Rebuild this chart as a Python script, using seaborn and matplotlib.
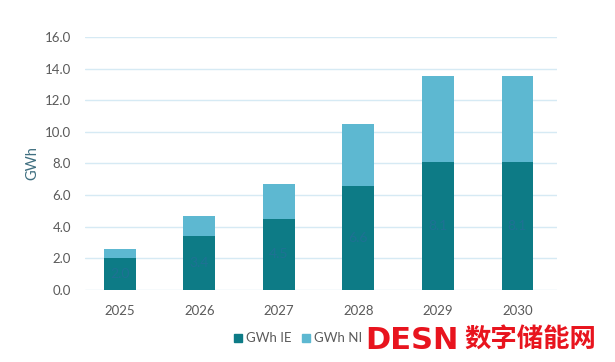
import matplotlib.pyplot as plt
import seaborn as sns
import pandas as pd

anni = ['2025', '2026', '2027', '2028', '2029', '2030']
gwh_ie = [2.0, 3.4, 4.5, 6.6, 8.1, 8.1]
gwh_ni = [0.6, 1.3, 2.2, 3.9, 5.4, 5.4]

col_ie = '#0d7b86'
col_ni = '#5db8d1'
grigio = '#5a5a5a'

sns.set_style('white')
plt.rcParams['font.family'] = ['Lato', 'DejaVu Sans']

df = pd.DataFrame({'anno': anni, 'ie': gwh_ie, 'ni': gwh_ni})
df['tot'] = df['ie'] + df['ni']

fig = plt.figure(figsize=(6.15, 3.62), dpi=100)
ax = fig.add_axes([0.138, 0.199, 0.768, 0.699])

sns.barplot(data=df, x='anno', y='tot', color=col_ni, width=0.4, saturation=1,
            linewidth=0, ax=ax, zorder=3)
sns.barplot(data=df, x='anno', y='ie', color=col_ie, width=0.4, saturation=1,
            linewidth=0, ax=ax, zorder=3)

# etichette quasi invisibili dentro le barre scure
ax.bar_label(ax.containers[1], labels=[f'{v:.1f}' for v in gwh_ie], label_type='center',
             color='#2a6a9e', fontsize=10, alpha=0.6, zorder=5)

ax.set_ylim(0, 16)
ax.set_xlim(-0.44, 5.5)
ax.set_yticks(range(0, 17, 2))
ax.set_yticklabels([f'{v:.1f}' for v in range(0, 17, 2)])
ax.yaxis.grid(True, color='#d6eaf4', lw=1, zorder=0)
ax.set_axisbelow(True)
sns.despine(ax=ax, left=True, bottom=True)
ax.tick_params(length=0, labelsize=9.5, labelcolor=grigio)
ax.tick_params(axis='y', pad=10)
ax.tick_params(axis='x', pad=11)
ax.set_xlabel('')
ax.set_ylabel('GWh', color='#3f6f80', fontsize=10.5, labelpad=4)

h1 = plt.Line2D([], [], marker='s', ls='', color=col_ie, markersize=5.5)
h2 = plt.Line2D([], [], marker='s', ls='', color=col_ni, markersize=5.5)
fig.legend([h1, h2], ['GWh IE', 'GWh NI'], loc='center', bbox_to_anchor=(0.482, 0.065),
           ncol=2, frameon=False, fontsize=9.5, labelcolor=grigio,
           handlelength=1.0, handletextpad=0.1, columnspacing=0.6)

# filigrana
fig.text(0.594, 0.06, 'DESN', color='#e8141e', fontsize=22, fontweight='bold',
         va='center', ha='left', family=['DejaVu Sans'])
fig.text(0.755, 0.06, '数字储能网', color='#e8141e', fontsize=19, fontweight='bold',
         va='center', ha='left', family=['Noto Sans CJK SC', 'DejaVu Sans'])

fig.savefig('out.png', dpi=100)
